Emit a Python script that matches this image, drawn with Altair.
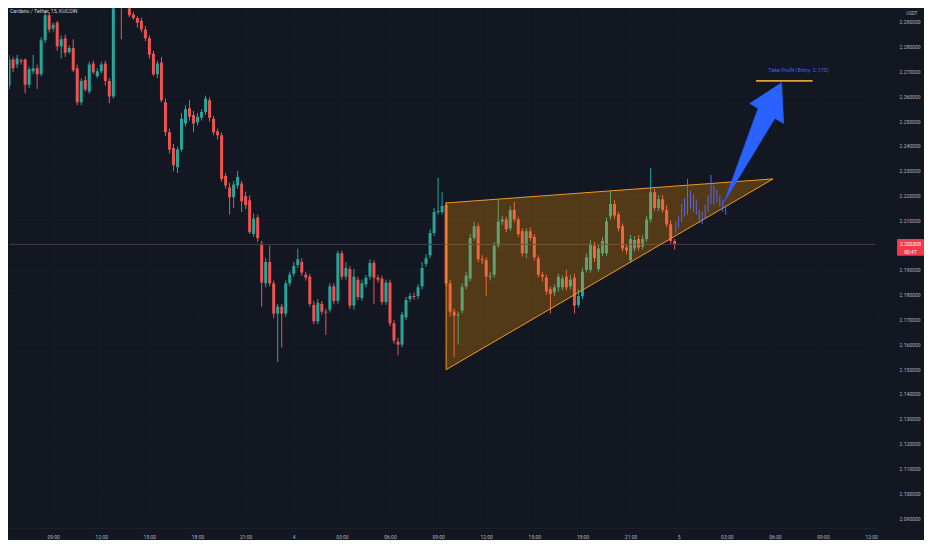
import altair as alt
import pandas as pd

# ---------------- data ----------------
title_text = "Cardano / Tether, 15, KUCOIN"
quote_unit = "USDT"
first_candle_minute = 375          # minutes after day-3 00:00 (06:15)
candle_step = 15

opens = [2.2642, 2.2748, 2.2728, 2.2744, 2.2748, 2.2646, 2.2701, 2.2713, 2.2689, 2.2826,
         2.2927, 2.2873, 2.2896, 2.2802, 2.2834, 2.2779, 2.2795, 2.2713, 2.2576, 2.2666,
         2.2619, 2.2732, 2.2681, 2.2701, 2.2732, 2.2662, 2.2599, 2.2994, 2.3052, 2.2974,
         2.3033, 2.2931, 2.2916, 2.2904, 2.2869, 2.2834, 2.2771, 2.2689, 2.2736, 2.2576,
         2.2455, 2.2392, 2.2314, 2.2385, 2.2490, 2.2552, 2.2525, 2.2494, 2.2513, 2.2537,
         2.2584, 2.2509, 2.2459, 2.2443, 2.2279, 2.2232, 2.2193, 2.2240, 2.2248, 2.2197,
         2.2181, 2.2045, 2.2111, 2.2006, 2.1846, 2.1932, 2.1846, 2.1724, 2.1752, 2.1724,
         2.1846, 2.1885, 2.1920, 2.1932, 2.1881, 2.1873, 2.1759, 2.1693, 2.1763, 2.1732,
         2.1740, 2.1834, 2.1775, 2.1967, 2.1873, 2.1904, 2.1756, 2.1861, 2.1787, 2.1842,
         2.1873, 2.1928, 2.1869, 2.1865, 2.1771, 2.1849, 2.1685, 2.1611, 2.1599, 2.1709,
         2.1783, 2.1795, 2.1795, 2.1834, 2.1924, 2.1959, 2.2049, 2.2134, 2.2134, 2.2162,
         2.1846, 2.1732, 2.1716, 2.1736, 2.1834, 2.1865, 2.2029, 2.2076, 2.1943, 2.1939,
         2.1873, 2.1881, 2.1998, 2.2095, 2.2103, 2.2068, 2.2142, 2.2103, 2.2056, 2.1967,
         2.2056, 2.2033, 2.1947, 2.1881, 2.1869, 2.1822, 2.1810, 2.1830, 2.1830, 2.1873,
         2.1834, 2.1869, 2.1759, 2.1795, 2.1900, 2.1900, 2.1998, 2.1904, 2.1967, 2.1967,
         2.2115, 2.2166, 2.2123, 2.2076, 2.1990, 2.1939, 2.1986, 2.2025, 2.1994, 2.2025,
         2.2103, 2.2213, 2.2150, 2.2185, 2.2142, 2.2084, 2.2017]
highs = [2.2767, 2.2759, 2.2767, 2.2752, 2.2752, 2.2720, 2.2767, 2.2728, 2.2838, 2.2943,
         2.2939, 2.2896, 2.2904, 2.2845, 2.2849, 2.2806, 2.2830, 2.2728, 2.2673, 2.2681,
         2.2740, 2.2744, 2.2713, 2.2740, 2.2744, 2.2673, 2.3013, 2.3072, 2.3064, 2.3048,
         2.3041, 2.2939, 2.2923, 2.2916, 2.2884, 2.2845, 2.2783, 2.2744, 2.2759, 2.2591,
         2.2470, 2.2408, 2.2396, 2.2533, 2.2564, 2.2584, 2.2541, 2.2533, 2.2548, 2.2603,
         2.2595, 2.2521, 2.2470, 2.2455, 2.2291, 2.2252, 2.2259, 2.2298, 2.2259, 2.2216,
         2.2201, 2.2127, 2.2123, 2.2017, 2.1947, 2.1998, 2.1857, 2.1763, 2.1763, 2.1857,
         2.1893, 2.1932, 2.1986, 2.1947, 2.1893, 2.1885, 2.1775, 2.1783, 2.1775, 2.1744,
         2.1846, 2.1846, 2.1978, 2.1978, 2.1932, 2.1916, 2.1904, 2.1873, 2.1861, 2.1881,
         2.1943, 2.1939, 2.1881, 2.1877, 2.1861, 2.1861, 2.1697, 2.1627, 2.1732, 2.1791,
         2.1807, 2.1810, 2.1842, 2.1932, 2.1963, 2.2064, 2.2150, 2.2271, 2.2213, 2.2174,
         2.1861, 2.1744, 2.1732, 2.1846, 2.1893, 2.2045, 2.2095, 2.2088, 2.1959, 2.1951,
         2.1893, 2.2013, 2.2181, 2.2119, 2.2115, 2.2158, 2.2174, 2.2115, 2.2068, 2.2068,
         2.2072, 2.2045, 2.1959, 2.1893, 2.1881, 2.1834, 2.1842, 2.1885, 2.1877, 2.1900,
         2.1881, 2.1885, 2.1822, 2.1908, 2.1967, 2.2021, 2.2013, 2.2002, 2.2033, 2.2111,
         2.2220, 2.2181, 2.2134, 2.2088, 2.2002, 2.2041, 2.2037, 2.2041, 2.2041, 2.2119,
         2.2310, 2.2228, 2.2201, 2.2201, 2.2162, 2.2099, 2.2025]
lows = [2.2627, 2.2697, 2.2713, 2.2728, 2.2611, 2.2634, 2.2689, 2.2630, 2.2681, 2.2814,
        2.2857, 2.2861, 2.2783, 2.2752, 2.2759, 2.2771, 2.2697, 2.2564, 2.2564, 2.2619,
        2.2611, 2.2689, 2.2673, 2.2693, 2.2642, 2.2572, 2.2591, 2.2986, 2.2830, 2.2962,
        2.2920, 2.2908, 2.2877, 2.2857, 2.2822, 2.2752, 2.2681, 2.2673, 2.2576, 2.2439,
        2.2369, 2.2298, 2.2291, 2.2377, 2.2478, 2.2502, 2.2455, 2.2482, 2.2502, 2.2525,
        2.2498, 2.2443, 2.2427, 2.2256, 2.2228, 2.2123, 2.2150, 2.2228, 2.2134, 2.2146,
        2.2045, 2.2033, 2.2013, 2.1752, 2.1830, 2.1834, 2.1705, 2.1529, 2.1588, 2.1712,
        2.1834, 2.1873, 2.1908, 2.1877, 2.1857, 2.1752, 2.1681, 2.1681, 2.1720, 2.1638,
        2.1728, 2.1763, 2.1763, 2.1861, 2.1861, 2.1744, 2.1740, 2.1779, 2.1775, 2.1830,
        2.1861, 2.1763, 2.1849, 2.1759, 2.1759, 2.1674, 2.1603, 2.1556, 2.1588, 2.1697,
        2.1771, 2.1779, 2.1783, 2.1822, 2.1912, 2.1947, 2.2037, 2.2123, 2.2123, 2.1834,
        2.1712, 2.1549, 2.1599, 2.1724, 2.1822, 2.1853, 2.2017, 2.1932, 2.1924, 2.1795,
        2.1857, 2.1869, 2.1986, 2.2080, 2.2052, 2.2056, 2.2091, 2.2033, 2.1955, 2.1947,
        2.2017, 2.1939, 2.1869, 2.1853, 2.1799, 2.1724, 2.1795, 2.1814, 2.1818, 2.1818,
        2.1822, 2.1724, 2.1748, 2.1783, 2.1889, 2.1889, 2.1932, 2.1893, 2.1955, 2.1955,
        2.2103, 2.2107, 2.2056, 2.1974, 2.1963, 2.1928, 2.1974, 2.1978, 2.1982, 2.2013,
        2.2091, 2.2138, 2.2138, 2.2131, 2.2072, 2.2006, 2.1982]
closes = [2.2748, 2.2713, 2.2752, 2.2740, 2.2646, 2.2709, 2.2713, 2.2689, 2.2826, 2.2927,
          2.2869, 2.2888, 2.2802, 2.2830, 2.2775, 2.2795, 2.2705, 2.2576, 2.2662, 2.2627,
          2.2728, 2.2697, 2.2701, 2.2728, 2.2662, 2.2599, 2.2994, 2.3052, 2.2974, 2.3033,
          2.2927, 2.2916, 2.2896, 2.2869, 2.2834, 2.2767, 2.2689, 2.2732, 2.2584, 2.2455,
          2.2385, 2.2322, 2.2385, 2.2509, 2.2548, 2.2517, 2.2490, 2.2517, 2.2537, 2.2591,
          2.2513, 2.2455, 2.2443, 2.2267, 2.2240, 2.2193, 2.2244, 2.2275, 2.2177, 2.2162,
          2.2052, 2.2107, 2.2029, 2.1849, 2.1932, 2.1846, 2.1724, 2.1752, 2.1724, 2.1846,
          2.1881, 2.1916, 2.1943, 2.1889, 2.1869, 2.1763, 2.1693, 2.1767, 2.1732, 2.1728,
          2.1834, 2.1775, 2.1967, 2.1873, 2.1908, 2.1756, 2.1873, 2.1791, 2.1846, 2.1869,
          2.1928, 2.1869, 2.1861, 2.1771, 2.1849, 2.1685, 2.1615, 2.1599, 2.1720, 2.1779,
          2.1795, 2.1791, 2.1830, 2.1908, 2.1947, 2.2049, 2.2134, 2.2138, 2.2158, 2.1846,
          2.1732, 2.1716, 2.1720, 2.1830, 2.1877, 2.2029, 2.2076, 2.1943, 2.1939, 2.1873,
          2.1877, 2.1998, 2.2095, 2.2103, 2.2064, 2.2142, 2.2103, 2.2045, 2.1967, 2.2056,
          2.2029, 2.1951, 2.1881, 2.1873, 2.1814, 2.1803, 2.1830, 2.1873, 2.1865, 2.1830,
          2.1861, 2.1756, 2.1795, 2.1893, 2.1951, 2.2006, 2.1947, 2.1986, 2.2017, 2.2095,
          2.2166, 2.2119, 2.2068, 2.1986, 2.1978, 2.2025, 2.2021, 2.1990, 2.2025, 2.2103,
          2.2213, 2.2150, 2.2185, 2.2142, 2.2084, 2.2017, 2.200308]

last_price_label = "2.200308"
countdown_label = "00:47"

# projected path drawn in blue (minute, low, high)
proj_minutes = [2869, 2880, 2891, 2902, 2913, 2924, 2935, 2946, 2957, 2968,
                2979, 2990, 3001, 3012, 3023, 3034, 3045, 3056]
proj_lows = [2.2049, 2.2068, 2.2095, 2.2115, 2.2123, 2.2146, 2.2134, 2.2123, 2.2088, 2.2084,
             2.2107, 2.2134, 2.2166, 2.2162, 2.2174, 2.2154, 2.2134, 2.2123]
proj_highs = [2.2095, 2.2115, 2.2166, 2.2189, 2.2267, 2.2220, 2.2205, 2.2185, 2.2142, 2.2134,
              2.2162, 2.2201, 2.2283, 2.2240, 2.2224, 2.2201, 2.2181, 2.2162]

# rising wedge / triangle drawing
tri_minutes = [2010, 3233]
tri_upper = [2.2170, 2.2267]
tri_lower = [2.1498, 2.2267]

# arrow (two triangles: shaft and head), vertices in (minute, price)
arrow_shaft = [(3050, 2.2174), (3179, 2.2557), (3244, 2.2518)]
arrow_head = [(3146, 2.2571), (3265, 2.2655), (3273, 2.2490)]

# take profit
tp_start, tp_end, tp_price = 3169, 3381, 2.2662
tp_label = "Take Profit (Entry: 2.175)"
tp_label_minute, tp_label_price = 3328, 2.2704

price_ticks = [2.09, 2.10, 2.11, 2.12, 2.13, 2.14, 2.15, 2.16, 2.17, 2.18, 2.19,
               2.21, 2.22, 2.23, 2.24, 2.25, 2.26, 2.27, 2.28, 2.29]
time_ticks = [540, 720, 900, 1080, 1260, 1440, 1620, 1800, 1980, 2160, 2340, 2520,
              2700, 2880, 3060, 3240, 3420, 3600]

x_domain = [374.7, 3614.7]
y_domain = [2.0860938, 2.2954688]

# ---------------- build tables ----------------
n = len(opens)
candles = pd.DataFrame({
    "t": [first_candle_minute + candle_step * i for i in range(n)],
    "open": opens, "high": highs, "low": lows, "close": closes,
})
candles["dir"] = ["up" if c >= o else "down" for o, c in zip(opens, closes)]
candles["t0"] = candles["t"] - 5.6
candles["t1"] = candles["t"] + 5.6

proj = pd.DataFrame({"t": proj_minutes, "low": proj_lows, "high": proj_highs})
tri = pd.DataFrame({"t": tri_minutes, "upper": tri_upper, "lower": tri_lower})


def triangle_rows(name, verts):
    (x1, y1), (x2, y2), (x3, y3) = sorted(verts)
    yo = y1 + (x2 - x1) / (x3 - x1) * (y3 - y1)
    return [
        {"piece": name, "t": x1, "a": y1, "b": y1},
        {"piece": name, "t": x2, "a": y2, "b": yo},
        {"piece": name, "t": x3, "a": y3, "b": y3},
    ]


arrow = pd.DataFrame(triangle_rows("shaft", arrow_shaft) + triangle_rows("head", arrow_head))
tp = pd.DataFrame({"t": [tp_start], "t2": [tp_end], "p": [tp_price]})
tp_text = pd.DataFrame({"t": [tp_label_minute], "p": [tp_label_price], "label": [tp_label]})
last_close = closes[-1]
price_line = pd.DataFrame({"p": [last_close]})
price_box = pd.DataFrame({"top": [last_close + 0.0022], "bottom": [last_close - 0.0046]})
price_txt = pd.DataFrame({"p": [last_close, last_close - 0.0029],
                          "label": [last_price_label, countdown_label]})
title_df = pd.DataFrame({"label": [title_text]})

# ---------------- scales / axes ----------------
xs = alt.Scale(domain=x_domain, nice=False, zero=False)
ys = alt.Scale(domain=y_domain, nice=False, zero=False)

label_expr = ("datum.value % 1440 == 0 ? toString(3 + datum.value / 1440) : "
              "(floor((datum.value % 1440) / 60) < 10 ? '0' : '') + "
              "toString(floor((datum.value % 1440) / 60)) + ':00'")

x_axis = alt.Axis(values=time_ticks, labelExpr=label_expr, title=None, tickSize=0,
                  labelPadding=6.5, labelFontSize=5, labelColor="#b2b5be",
                  domainColor="#20242f", grid=True, gridColor="#181c27",
                  labelFont="Roboto", labelFlush=False, labelOverlap=False)
y_axis = alt.Axis(orient="right", values=price_ticks, format=".6f", tickSize=0,
                  labelAlign="right", labelPadding=45, labelFontSize=5, labelColor="#b2b5be",
                  domain=False, grid=True, gridColor="#171b26", labelFont="Roboto",
                  labelOverlap=False, labelFlush=False,
                  title=quote_unit, titleAngle=0, titleAlign="right", titleBaseline="top",
                  titleX=42, titleY=2.5, titleFontSize=4.5, titleColor="#b2b5be",
                  titleFont="Roboto", titleFontWeight="normal")


def X(field):
    return alt.X(field, scale=xs, axis=x_axis)


def Y(field):
    return alt.Y(field, scale=ys, axis=y_axis)


color = alt.Color("dir:N", scale=alt.Scale(domain=["up", "down"],
                                           range=["#26a69a", "#ef5350"]), legend=None)

wicks = alt.Chart(candles).mark_rule(strokeWidth=1, clip=True).encode(
    x=X("t:Q"), y=Y("low:Q"), y2="high:Q", color=color,
)
bodies = alt.Chart(candles).mark_rect(clip=True).encode(
    x=X("t0:Q"), x2="t1:Q", y=Y("open:Q"), y2="close:Q", color=color,
)
pline = alt.Chart(price_line).mark_rule(color="#473c45", strokeWidth=1).encode(
    y=Y("p:Q"),
)
triangle = alt.Chart(tri).mark_area(
    color="#ff9800", fillOpacity=0.27, stroke="#f29a1f", strokeWidth=1, clip=True
).encode(
    x=X("t:Q"), y=Y("upper:Q"), y2="lower:Q",
)
proj_bars = alt.Chart(proj).mark_rule(color="#5468f2", strokeWidth=1, clip=True).encode(
    x=X("t:Q"), y=Y("low:Q"), y2="high:Q",
)
arrow_layer = alt.Chart(arrow).mark_area(
    color="#2962ff", stroke="#2962ff", strokeWidth=0.6, clip=True
).encode(
    x=X("t:Q"), y=Y("a:Q"), y2="b:Q", detail="piece:N",
)
tp_line = alt.Chart(tp).mark_rule(color="#d8a63c", strokeWidth=1.6).encode(
    x=X("t:Q"), x2="t2:Q", y=Y("p:Q"),
)
tp_txt = alt.Chart(tp_text).mark_text(
    color="#3b63f0", fontSize=5.5, font="Roboto", align="center", baseline="middle"
).encode(
    x=X("t:Q"), y=Y("p:Q"), text="label:N",
)
box = alt.Chart(price_box).mark_rect(color="#ef3b4a", cornerRadius=1).encode(
    x=alt.value(889), x2=alt.value(916), y=Y("top:Q"), y2="bottom:Q",
)
box_txt = alt.Chart(price_txt).mark_text(
    color="#ffffff", fontSize=5, font="Roboto", align="center", baseline="middle"
).encode(
    x=alt.value(902.5), y=Y("p:Q"), text="label:N",
)
title_mark = alt.Chart(title_df).mark_text(
    color="#d1d4dc", fontSize=5.2, font="Roboto", align="left", baseline="top"
).encode(x=alt.value(1), y=alt.value(1), text="label:N")

chart = alt.layer(
    wicks, bodies, pline, triangle, proj_bars, arrow_layer, tp_line, tp_txt,
    box, box_txt, title_mark
).properties(
    width=867, height=520, padding=0, background="#131722"
).configure_view(stroke=None)

chart.save("out.html", embed_options={"renderer": "svg", "actions": False})
